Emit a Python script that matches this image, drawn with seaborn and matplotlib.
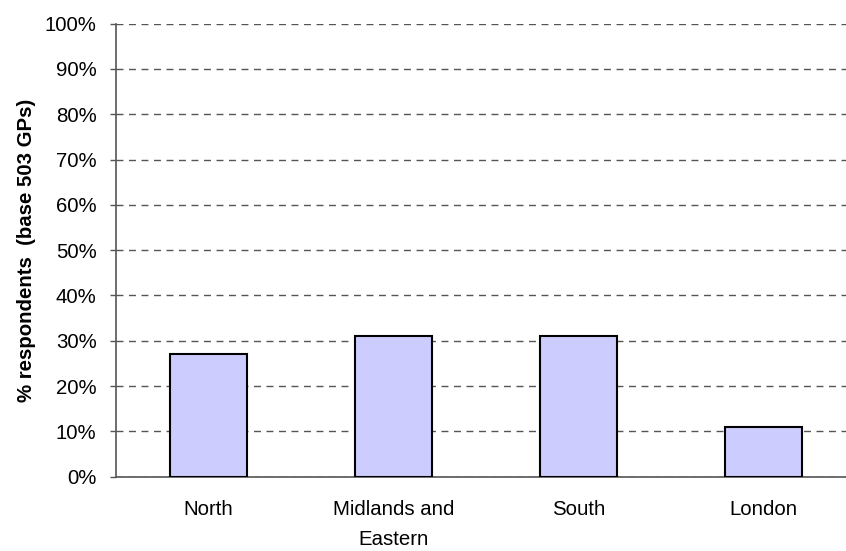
import matplotlib
matplotlib.use("Agg")
import matplotlib.pyplot as plt
from matplotlib.ticker import MultipleLocator, PercentFormatter
import seaborn as sns
import pandas as pd

regions = ["North", "Midlands and\nEastern", "South", "London"]
respondents = [27, 31, 31, 11]

sns.set_style("white")
plt.rcParams["font.family"] = ["Liberation Sans", "DejaVu Sans"]
plt.rcParams["font.size"] = 14.7
plt.rcParams["text.color"] = "black"
plt.rcParams["axes.labelcolor"] = "black"

df = pd.DataFrame({"region": regions, "pct": respondents})

fig, ax = plt.subplots(figsize=(8.46, 5.51), dpi=100)
# plot area runs off the right edge, as in the original
fig.subplots_adjust(left=0.137, right=1.012, top=0.957, bottom=0.135)

sns.barplot(data=df, x="region", y="pct", color="#ccccff", width=0.415,
            edgecolor="black", linewidth=1.5, saturation=1, ax=ax, zorder=3)

ax.set_ylim(0, 100)
ax.set_xlim(-0.5, 3.5)
ax.yaxis.set_major_locator(MultipleLocator(10))
ax.yaxis.set_major_formatter(PercentFormatter(decimals=0))
ax.grid(axis="y", linestyle=(0, (5, 4)), color="#555555", linewidth=1, zorder=0)
ax.set_axisbelow(True)

# ticks sit between categories on the x axis
ax.set_xticks([0, 1, 2, 3])
ax.set_xticklabels(regions, linespacing=1.75)
ax.set_xticks([-0.5, 0.5, 1.5, 2.5], minor=True)
ax.tick_params(axis="x", which="major", length=0, pad=17, labelcolor="black")
ax.tick_params(axis="x", which="minor", length=4, direction="out", width=1, color="#555555")
ax.tick_params(axis="y", length=4, direction="out", width=1, color="#555555", pad=10,
               left=True, labelcolor="black")

for side in ["top", "right"]:
    ax.spines[side].set_visible(False)
for side in ["left", "bottom"]:
    ax.spines[side].set_color("#555555")
    ax.spines[side].set_linewidth(1.2)

ax.set_xlabel("")
ax.set_ylabel("% respondents  (base 503 GPs)", fontweight="bold", labelpad=6)

fig.savefig("out.png", dpi=100)
